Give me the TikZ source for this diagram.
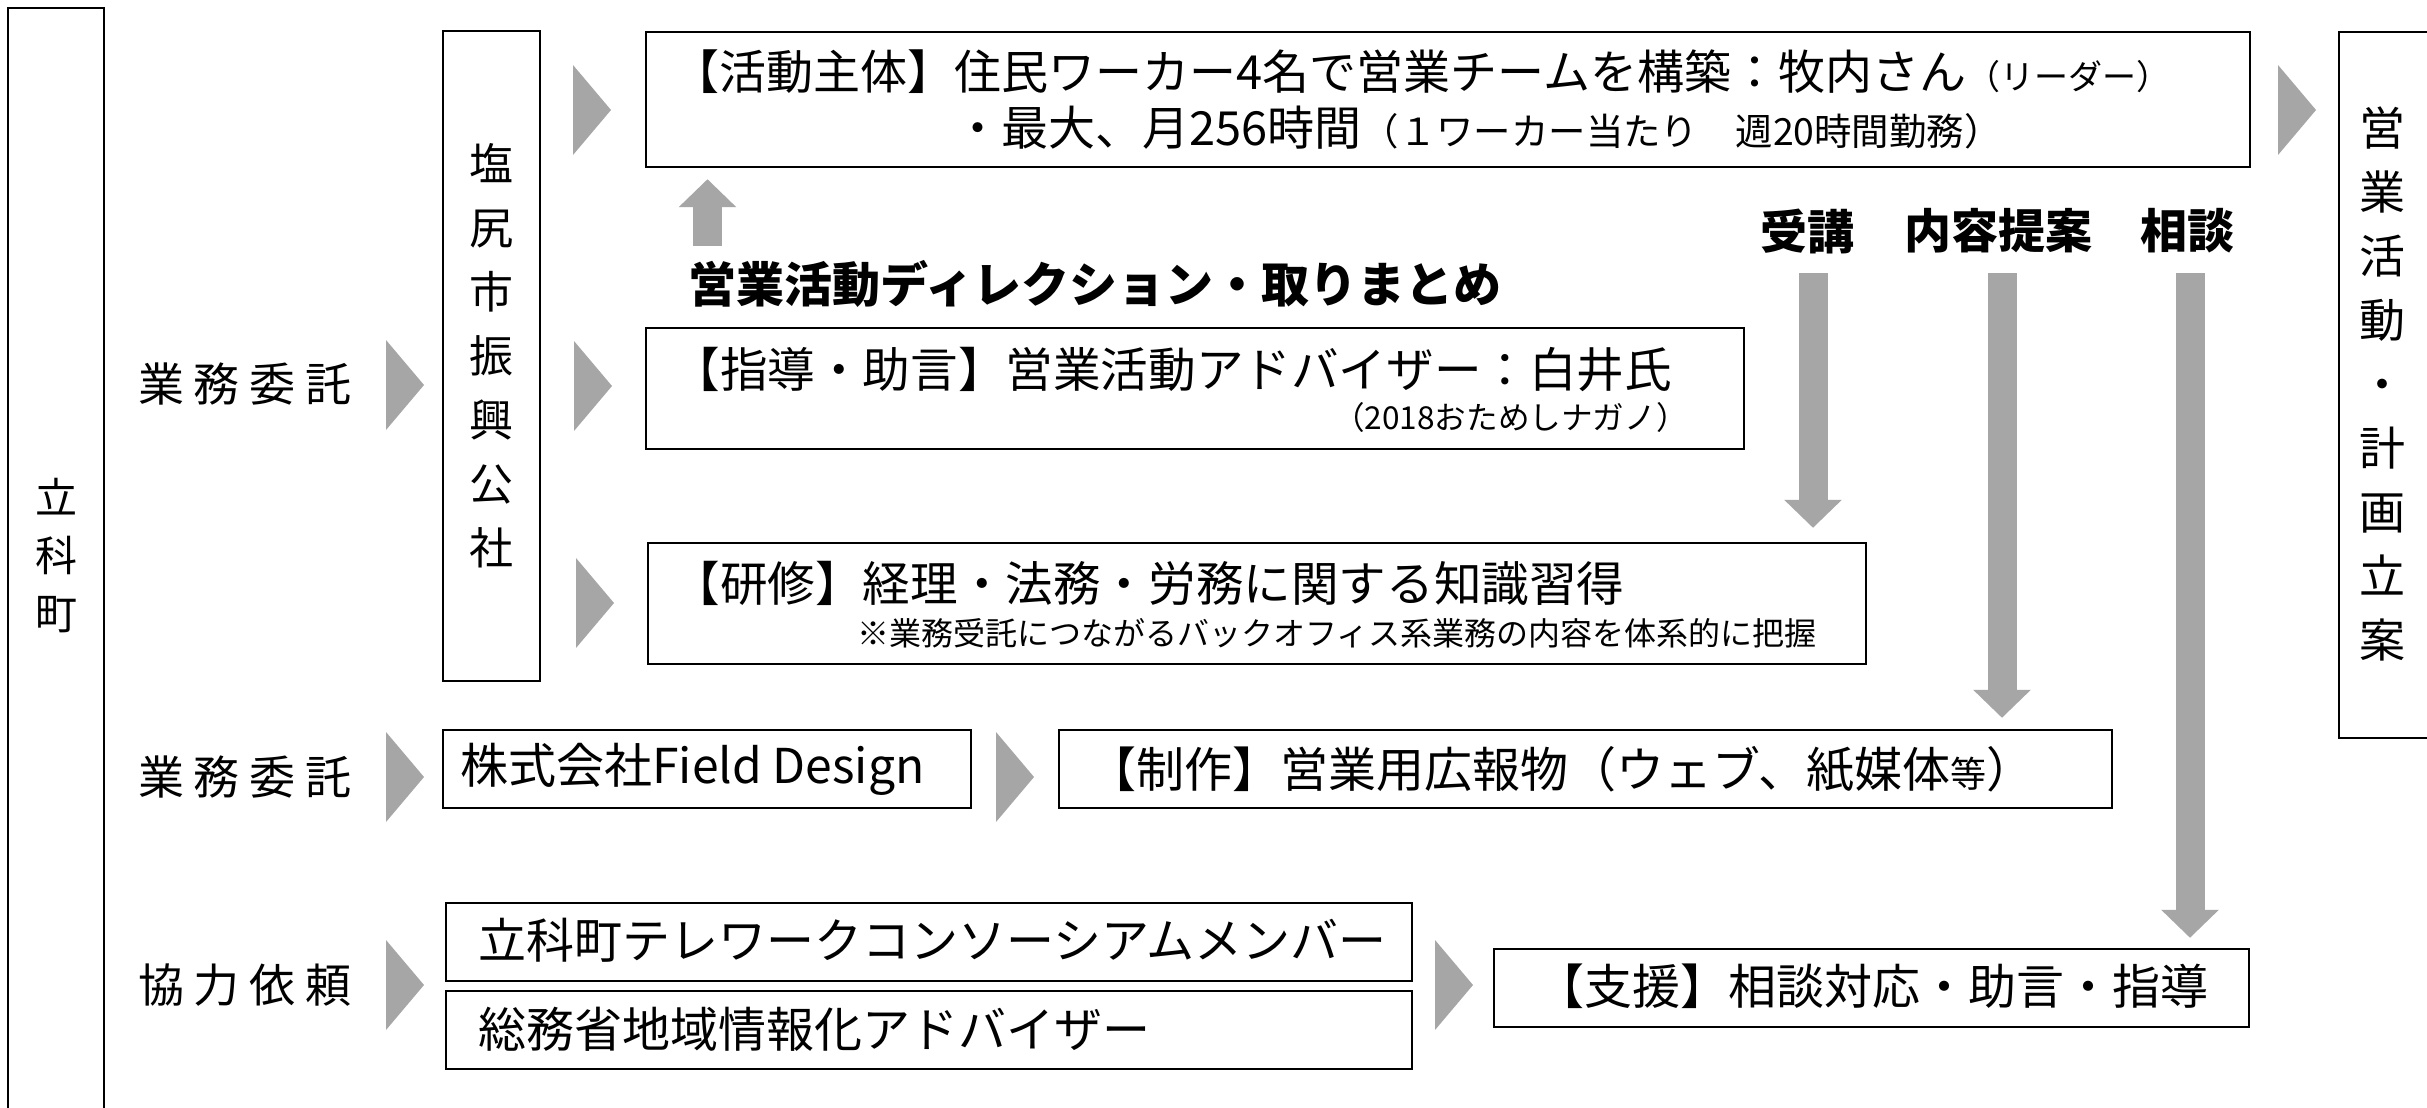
\documentclass[tikz,border=0pt]{standalone}
\usepackage{fontspec}
\setmainfont{Noto Sans CJK JP}
\usetikzlibrary{fit,arrows.meta}
\definecolor{agray}{HTML}{A6A6A6}
\newcommand\fs[1]{\fontsize{#1pt}{#1pt}\selectfont}
\begin{document}
\begin{tikzpicture}[x=0.5pt,y=-0.5pt,
  frame/.style={draw=black, line width=1.2pt, inner sep=0pt},
  txt/.style={inner sep=0pt, anchor=west, font=\fs{23.5}},
  lbl/.style={inner sep=0pt, font=\fs{23}},
  boldlbl/.style={inner sep=0pt, font=\fs{23.5}\bfseries},
  vtext/.style={inner sep=0pt, align=center},
  barrow/.style={draw=agray, line width=14.5pt, -{Triangle[length=14pt,width=28pt]}},
  chev/.pic={\fill[agray] (0,-45) -- (38,0) -- (0,45) -- cycle;}
]
\clip (0,0) rectangle (2427,1108);
\fill[white] (0,0) rectangle (2427,1108);

% boxes
\node[frame, fit={(8,8) (104,1140)}] (tateshina) {};
\node[frame, fit={(443,31) (540,681)}] (shiojiri) {};
\node[frame, fit={(646,32) (2250,167)}] (katsudo) {};
\node[frame, fit={(646,328) (1744,449)}] (shido) {};
\node[frame, fit={(648,543) (1866,664)}] (kenshu) {};
\node[frame, fit={(443,730) (971,808)}] (field) {};
\node[frame, fit={(1059,730) (2112,808)}] (seisaku) {};
\node[frame, fit={(446,903) (1412,981)}] (telework) {};
\node[frame, fit={(446,991) (1412,1069)}] (soumu) {};
\node[frame, fit={(1494,949) (2249,1027)}] (shien) {};
\node[frame, fit={(2339,32) (2470,738)}] (keikaku) {};

% vertical texts
\node[vtext, font=\fontsize{21pt}{29pt}\selectfont] (vt3) at (56,556) {立\\科\\町};
\node[vtext, font=\fontsize{22pt}{32pt}\selectfont] (vt1) at (491,355.5) {塩\\尻\\市\\振\\興\\公\\社};
\node[vtext, font=\fontsize{23pt}{32pt}\selectfont] (vt2) at (2382,383.5) {営\\業\\活\\動\\・\\計\\画\\立\\案};

% box texts
\node[txt] (t1a) at (672,72) {【活動主体】住民ワーカー4名で営業チームを構築：牧内さん{\fs{17}（リーダー）}};
\node[txt] (t1b) at (954,128) {・最大、月256時間{\fs{18.7}（１ワーカー当たり　週20時間勤務）}};
\node[txt, font=\fs{23.8}] (t2a) at (672,370) {【指導・助言】営業活動アドバイザー：白井氏};
\node[txt, anchor=east, font=\fs{15.8}] (t2b) at (1688,417) {（2018おためしナガノ）};
\node[txt, font=\fs{23.8}] (t3a) at (672,583) {【研修】経理・法務・労務に関する知識習得};
\node[txt, font=\fs{16}] (t3b) at (857,633) {※業務受託につながるバックオフィス系業務の内容を体系的に把握};
\node[txt, font=\fs{24}] (t4a) at (460,769) {株式会社Field Design};
\node[txt, font=\fs{24}] (t4b) at (1088,769) {【制作】営業用広報物（ウェブ、紙媒体{\fs{18}等}）};
\node[txt, font=\fs{24}] (t5a) at (478,940) {立科町テレワークコンソーシアムメンバー};
\node[txt, font=\fs{24}] (t5b) at (478,1029) {総務省地域情報化アドバイザー};
\node[txt, font=\fs{24}] (t5c) at (1536,986) {【支援】相談対応・助言・指導};

% side labels
\node[lbl] (l1) at (245,384) {業\hspace{5pt}務\hspace{5pt}委\hspace{5pt}託};
\node[lbl] (l2) at (245,777) {業\hspace{5pt}務\hspace{5pt}委\hspace{5pt}託};
\node[lbl] (l3) at (245,985) {協\hspace{5pt}力\hspace{5pt}依\hspace{5pt}頼};

% bold labels
\node[boldlbl, anchor=west, font=\fs{24}\bfseries] (dir) at (688,284) {営業活動ディレクション・取りまとめ};
\node[boldlbl] (jk) at (1807,231) {受講};
\node[boldlbl] (ny) at (1998,231) {内容提案};
\node[boldlbl] (sd) at (2187,231) {相談};

% chevrons
\pic at (573,110) {chev};
\pic at (2278,110) {chev};
\pic at (386,385) {chev};
\pic at (574,386) {chev};
\pic at (576,603) {chev};
\pic at (386,777) {chev};
\pic at (996,777) {chev};
\pic at (386,985) {chev};
\pic at (1435,985) {chev};

% block arrows
\coordinate (upS) at (707.5,246);
\draw[barrow, shorten >=5.5pt] (upS) -- (upS |- katsudo.south);
\coordinate (a1) at (1813,273);
\draw[barrow, shorten >=7pt] (a1) -- (a1 |- kenshu.north);
\coordinate (a2) at (2002,273);
\draw[barrow, shorten >=5.5pt] (a2) -- (a2 |- seisaku.north);
\coordinate (a3) at (2190,273);
\draw[barrow, shorten >=5pt] (a3) -- (a3 |- shien.north);
\end{tikzpicture}
\end{document}
